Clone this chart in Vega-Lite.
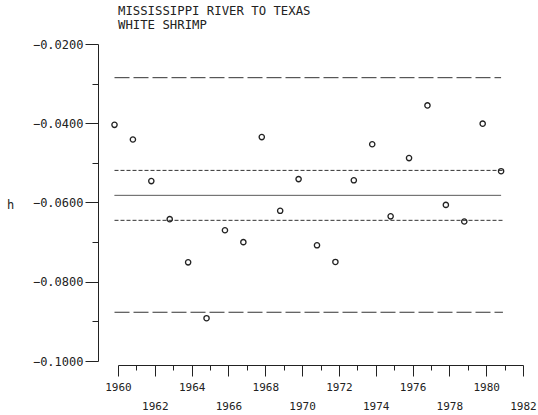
{
  "$schema": "https://vega.github.io/schema/vega-lite/v6.json",
  "autosize": {"type": "none"},
  "padding": {"left": 118, "top": 44, "right": 15, "bottom": 54},
  "width": 405,
  "height": 317,
  "background": "white",
  "title": {
    "text": ["MISSISSIPPI RIVER TO TEXAS", "WHITE SHRIMP"],
    "anchor": "start",
    "frame": "group",
    "offset": 7,
    "font": "DejaVu Sans Mono",
    "fontSize": 12.3,
    "fontWeight": "normal",
    "color": "#222",
    "lineHeight": 13.5
  },
  "config": {
    "view": {"stroke": null},
    "axis": {
      "grid": false,
      "domainColor": "#222",
      "tickColor": "#222",
      "labelColor": "#222",
      "titleColor": "#222",
      "labelFont": "DejaVu Sans Mono",
      "titleFont": "DejaVu Sans Mono",
      "titleFontWeight": "normal",
      "labelOverlap": false,
      "labelFlush": false,
      "labelBound": false
    }
  },
  "datasets": {
    "pts": [
      {"year": 1960, "h": -0.0404},
      {"year": 1961, "h": -0.0441},
      {"year": 1962, "h": -0.0546},
      {"year": 1963, "h": -0.0642},
      {"year": 1964, "h": -0.0751},
      {"year": 1965, "h": -0.0892},
      {"year": 1966, "h": -0.0670},
      {"year": 1967, "h": -0.0700},
      {"year": 1968, "h": -0.0435},
      {"year": 1969, "h": -0.0621},
      {"year": 1970, "h": -0.0541},
      {"year": 1971, "h": -0.0708},
      {"year": 1972, "h": -0.0750},
      {"year": 1973, "h": -0.0544},
      {"year": 1974, "h": -0.0453},
      {"year": 1975, "h": -0.0635},
      {"year": 1976, "h": -0.0488},
      {"year": 1977, "h": -0.0355},
      {"year": 1978, "h": -0.0606},
      {"year": 1979, "h": -0.0648},
      {"year": 1980, "h": -0.0401},
      {"year": 1981, "h": -0.0521}
    ],
    "bands": [
      {"kind": "limit", "h": -0.0285, "year": 1960, "year_end": 1981},
      {"kind": "interval", "h": -0.0519, "year": 1960, "year_end": 1981.1},
      {"kind": "mean", "h": -0.0582, "year": 1960, "year_end": 1981},
      {"kind": "interval", "h": -0.0645, "year": 1960, "year_end": 1981.1},
      {"kind": "limit", "h": -0.0877, "year": 1960, "year_end": 1981.1}
    ]
  },
  "encoding": {
    "x": {
      "field": "year",
      "type": "quantitative",
      "scale": {"domain": [1960, 1982], "nice": false, "zero": false},
      "axis": {
        "title": null,
        "offset": 4,
        "values": [1960, 1961, 1962, 1963, 1964, 1965, 1966, 1967, 1968, 1969, 1970, 1971, 1972, 1973, 1974, 1975, 1976, 1977, 1978, 1979, 1980, 1981, 1982],
        "format": "d",
        "labelOverlap": false,
        "labelExpr": "datum.value % 4 === 0 ? datum.label : (datum.value % 2 === 0 ? ['', datum.label] : '')",
        "labelFontSize": 11,
        "labelLineHeight": 19,
        "labelPadding": 5,
        "tickSize": {"condition": {"test": "datum.value % 2 === 0", "value": 11}, "value": 5}
      }
    },
    "y": {
      "field": "h",
      "type": "quantitative",
      "scale": {"domain": [-0.1, -0.02], "nice": false, "zero": false},
      "axis": {
        "title": "h",
        "titleAngle": 0,
        "titleAlign": "center",
        "titleBaseline": "middle",
        "titleX": -88,
        "titleY": 160,
        "titleFontSize": 12,
        "offset": 20,
        "values": [-0.02, -0.03, -0.04, -0.05, -0.06, -0.07, -0.08, -0.09, -0.1],
        "format": ".4f",
        "labelOverlap": false,
        "labelExpr": "round(datum.value * 100) % 2 === 0 ? datum.label : ''",
        "labelFontSize": 12,
        "labelPadding": 2,
        "tickSize": {"condition": {"test": "round(datum.value * 100) % 2 === 0", "value": 13}, "value": 6}
      }
    }
  },
  "layer": [
    {
      "data": {"name": "bands"},
      "mark": {"type": "rule", "strokeWidth": 1, "color": "#333", "xOffset": -3.5, "x2Offset": -3.5},
      "encoding": {
        "x2": {"field": "year_end"},
        "strokeDash": {
          "field": "kind",
          "type": "nominal",
          "scale": {"domain": ["limit", "interval", "mean"], "range": [[15, 4], [4, 2], [1, 0]]},
          "legend": null
        }
      }
    },
    {
      "data": {"name": "pts"},
      "mark": {"type": "point", "shape": "circle", "filled": false, "size": 28, "strokeWidth": 1.3, "color": "#222", "opacity": 1, "xOffset": -3.5},
      "encoding": {}
    }
  ]
}
